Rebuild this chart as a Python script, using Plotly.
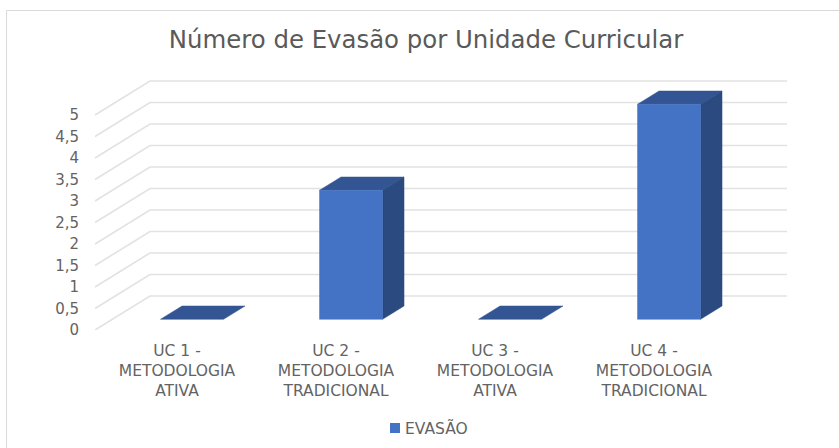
import plotly.graph_objects as go

categories = ["UC 1 -<br>METODOLOGIA<br>ATIVA", "UC 2 -<br>METODOLOGIA<br>TRADICIONAL",
              "UC 3 -<br>METODOLOGIA<br>ATIVA", "UC 4 -<br>METODOLOGIA<br>TRADICIONAL"]
series_name = "EVASÃO"
values = [0, 3, 0, 5]
y_ticks = [0, 0.5, 1, 1.5, 2, 2.5, 3, 3.5, 4, 4.5, 5]
y_labels = ["0", "0,5", "1", "1,5", "2", "2,5", "3", "3,5", "4", "4,5", "5"]
title = "Número de Evasão por Unidade Curricular"

W, H = 839, 448
L, R, T, B = 95, 790, 75, 330
px_x, px_y = 159.0, 43.0          # pixels per category / per value unit
x0 = -(177 - L) / px_x            # left end of axis
x1 = x0 + (R - L) / px_x
y1 = (B - T) / px_y
DX, DY = 55 / px_x, 34 / px_y     # oblique depth vector, in axis units
F, K = 0.315, 0.706               # bar front / back depth
HW = 31.5 / px_x                  # half bar width
SHIFT = -2.3 / px_x               # bar offset along the category axis
GRID_END = (787 - 177) / px_x - DX
GRID = "#e2e2e2"
TXT = "#636363"
FONT = "DejaVu Sans, sans-serif"


def pt(x, y, d):
    return x + d * DX, y + d * DY


def poly(pts, color):
    p = [pt(*q) for q in pts]
    xs = [a for a, _ in p] + [p[0][0]]
    ys = [b for _, b in p] + [p[0][1]]
    return go.Scatter(x=xs, y=ys, mode="lines", fill="toself", fillcolor=color,
                      line=dict(color=color, width=0.5), hoverinfo="skip", showlegend=False)


fig = go.Figure()

# gridlines: front diagonal + back wall
for v in y_ticks:
    a = pt(x0, v, 0)
    b = pt(x0, v, 1)
    c = pt(GRID_END, v, 1)
    fig.add_trace(go.Scatter(x=[a[0], b[0], c[0]], y=[a[1], b[1], c[1]], mode="lines",
                             line=dict(color=GRID, width=1.6), hoverinfo="skip", showlegend=False))

# bars
for i, v in enumerate(values):
    a, b = i + SHIFT - HW, i + SHIFT + HW
    fig.add_trace(poly([(a, v, F), (b, v, F), (b, v, K), (a, v, K)], "#335593"))
    if v > 0:
        fig.add_trace(poly([(b, 0, F), (b, 0, K), (b, v, K), (b, v, F)], "#2a4a80"))
        fig.add_trace(poly([(a, 0, F), (b, 0, F), (b, v, F), (a, v, F)], "#4472c4"))

# legend entry (swatch is placed next to the text as a shape below)
fig.add_trace(go.Scatter(x=[None], y=[None], mode="markers", name=series_name,
                         marker=dict(symbol="square", size=8, color="rgba(68,114,196,0)")))

fx = lambda p: (p - L) / (R - L)
fy = lambda p: (B - p) / (B - T)

fig.update_layout(
    width=W, height=H, autosize=False,
    margin=dict(l=L, r=W - R, t=T, b=H - B, pad=0, autoexpand=False),
    paper_bgcolor="white", plot_bgcolor="white",
    font=dict(family=FONT, color=TXT, size=13),
    title=dict(text=title, x=426 / W, xanchor="center", y=1 - 39 / H, yanchor="middle",
               font=dict(size=24.4, color="#5a5a5a", family=FONT)),
    showlegend=True,
    legend=dict(orientation="h", x=326 / W, xanchor="left", y=1 - 428 / H, yanchor="middle",
                yref="container", bgcolor="rgba(0,0,0,0)", font=dict(size=15.5, color=TXT)),
    xaxis=dict(range=[x0, x1], tickmode="array", tickvals=list(range(len(categories))),
               ticktext=categories, showgrid=False, zeroline=False, showline=False,
               ticks="", ticklabelstandoff=9, fixedrange=True, automargin=False,
               tickfont=dict(size=15.5, color=TXT, family=FONT)),
    yaxis=dict(range=[0, y1], tickmode="array", tickvals=y_ticks, ticktext=y_labels,
               showgrid=False, zeroline=False, showline=False, ticks="",
               ticklabelstandoff=15, fixedrange=True, automargin=False,
               tickfont=dict(size=15, color=TXT, family=FONT)),
    shapes=[
        dict(type="line", xref="paper", yref="paper", x0=fx(6.5), x1=fx(6.5), y0=fy(448), y1=fy(10.5),
             line=dict(color="#d9d9d9", width=1)),
        dict(type="line", xref="paper", yref="paper", x0=fx(6.5), x1=fx(839), y0=fy(10.5), y1=fy(10.5),
             line=dict(color="#d9d9d9", width=1)),
        dict(type="rect", xref="paper", yref="paper", x0=fx(390), x1=fx(400), y0=fy(433), y1=fy(423),
             line=dict(width=0), fillcolor="#4472c4"),
    ],
)

fig.write_html("out.html", config=dict(displayModeBar=False),
               post_script="document.body.style.margin='0';")
